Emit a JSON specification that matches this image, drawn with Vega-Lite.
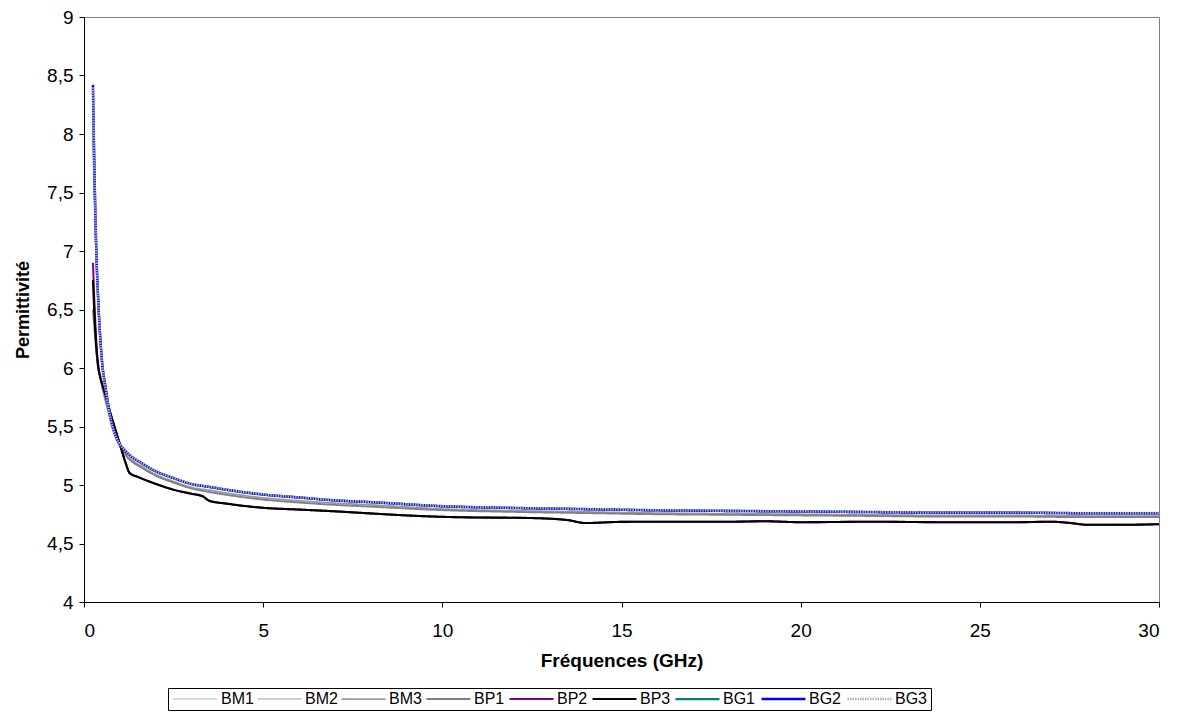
{
  "$schema": "https://vega.github.io/schema/vega-lite/v6.json",
  "width": 1075,
  "height": 585,
  "autosize": {"type": "none"},
  "padding": {"left": 84, "top": 17, "right": 20, "bottom": 120},
  "background": "white",
  "config": {
    "font": "Liberation Sans",
    "view": {"stroke": "#808080", "strokeWidth": 1}
  },
  "data": {
    "values": [
      {"s": "BM1", "f": 0.25, "v": 8.40}, {"s": "BM1", "f": 0.3, "v": 7.55}, {"s": "BM1", "f": 0.35, "v": 6.92}, {"s": "BM1", "f": 0.4, "v": 6.55},
      {"s": "BM1", "f": 0.5, "v": 6.05}, {"s": "BM1", "f": 0.6, "v": 5.83}, {"s": "BM1", "f": 0.75, "v": 5.55}, {"s": "BM1", "f": 0.9, "v": 5.40},
      {"s": "BM1", "f": 1.1, "v": 5.31}, {"s": "BM1", "f": 1.3, "v": 5.25}, {"s": "BM1", "f": 1.6, "v": 5.19}, {"s": "BM1", "f": 2, "v": 5.12},
      {"s": "BM1", "f": 2.5, "v": 5.06}, {"s": "BM1", "f": 3, "v": 5.01}, {"s": "BM1", "f": 3.5, "v": 4.985}, {"s": "BM1", "f": 4, "v": 4.96},
      {"s": "BM1", "f": 5, "v": 4.92}, {"s": "BM1", "f": 6, "v": 4.895}, {"s": "BM1", "f": 7, "v": 4.87}, {"s": "BM1", "f": 8, "v": 4.855},
      {"s": "BM1", "f": 10, "v": 4.82}, {"s": "BM1", "f": 12, "v": 4.805}, {"s": "BM1", "f": 14, "v": 4.795}, {"s": "BM1", "f": 16, "v": 4.785},
      {"s": "BM1", "f": 18, "v": 4.78}, {"s": "BM1", "f": 20, "v": 4.775}, {"s": "BM1", "f": 22, "v": 4.77}, {"s": "BM1", "f": 24, "v": 4.765},
      {"s": "BM1", "f": 26, "v": 4.765}, {"s": "BM1", "f": 28, "v": 4.76}, {"s": "BM1", "f": 30, "v": 4.76},

      {"s": "BM2", "f": 0.25, "v": 8.38}, {"s": "BM2", "f": 0.3, "v": 7.52}, {"s": "BM2", "f": 0.35, "v": 6.90}, {"s": "BM2", "f": 0.4, "v": 6.53},
      {"s": "BM2", "f": 0.5, "v": 6.04}, {"s": "BM2", "f": 0.6, "v": 5.82}, {"s": "BM2", "f": 0.75, "v": 5.54}, {"s": "BM2", "f": 0.9, "v": 5.40},
      {"s": "BM2", "f": 1.1, "v": 5.30}, {"s": "BM2", "f": 1.3, "v": 5.24}, {"s": "BM2", "f": 1.6, "v": 5.18}, {"s": "BM2", "f": 2, "v": 5.11},
      {"s": "BM2", "f": 2.5, "v": 5.055}, {"s": "BM2", "f": 3, "v": 5.005}, {"s": "BM2", "f": 3.5, "v": 4.98}, {"s": "BM2", "f": 4, "v": 4.955},
      {"s": "BM2", "f": 5, "v": 4.915}, {"s": "BM2", "f": 6, "v": 4.89}, {"s": "BM2", "f": 7, "v": 4.865}, {"s": "BM2", "f": 8, "v": 4.85},
      {"s": "BM2", "f": 10, "v": 4.815}, {"s": "BM2", "f": 12, "v": 4.8}, {"s": "BM2", "f": 14, "v": 4.79}, {"s": "BM2", "f": 16, "v": 4.78},
      {"s": "BM2", "f": 18, "v": 4.775}, {"s": "BM2", "f": 20, "v": 4.77}, {"s": "BM2", "f": 22, "v": 4.765}, {"s": "BM2", "f": 24, "v": 4.76},
      {"s": "BM2", "f": 26, "v": 4.76}, {"s": "BM2", "f": 28, "v": 4.755}, {"s": "BM2", "f": 30, "v": 4.755},

      {"s": "BM3", "f": 0.25, "v": 7.96}, {"s": "BM3", "f": 0.3, "v": 7.35}, {"s": "BM3", "f": 0.35, "v": 6.85}, {"s": "BM3", "f": 0.4, "v": 6.5},
      {"s": "BM3", "f": 0.5, "v": 6.05}, {"s": "BM3", "f": 0.6, "v": 5.82}, {"s": "BM3", "f": 0.75, "v": 5.55}, {"s": "BM3", "f": 0.9, "v": 5.40},
      {"s": "BM3", "f": 1.1, "v": 5.28}, {"s": "BM3", "f": 1.3, "v": 5.22}, {"s": "BM3", "f": 1.6, "v": 5.16}, {"s": "BM3", "f": 2, "v": 5.09},
      {"s": "BM3", "f": 2.5, "v": 5.03}, {"s": "BM3", "f": 3, "v": 4.98}, {"s": "BM3", "f": 3.5, "v": 4.955}, {"s": "BM3", "f": 4, "v": 4.93},
      {"s": "BM3", "f": 5, "v": 4.89}, {"s": "BM3", "f": 6, "v": 4.865}, {"s": "BM3", "f": 7, "v": 4.845}, {"s": "BM3", "f": 8, "v": 4.83},
      {"s": "BM3", "f": 10, "v": 4.795}, {"s": "BM3", "f": 12, "v": 4.78}, {"s": "BM3", "f": 14, "v": 4.77}, {"s": "BM3", "f": 16, "v": 4.76},
      {"s": "BM3", "f": 18, "v": 4.755}, {"s": "BM3", "f": 20, "v": 4.75}, {"s": "BM3", "f": 22, "v": 4.745}, {"s": "BM3", "f": 24, "v": 4.74},
      {"s": "BM3", "f": 26, "v": 4.74}, {"s": "BM3", "f": 28, "v": 4.735}, {"s": "BM3", "f": 30, "v": 4.735},

      {"s": "BP1", "f": 0.25, "v": 6.5}, {"s": "BP1", "f": 0.3, "v": 6.3}, {"s": "BP1", "f": 0.35, "v": 6.12}, {"s": "BP1", "f": 0.4, "v": 6.0},
      {"s": "BP1", "f": 0.5, "v": 5.85}, {"s": "BP1", "f": 0.6, "v": 5.72}, {"s": "BP1", "f": 0.75, "v": 5.55}, {"s": "BP1", "f": 0.9, "v": 5.42},
      {"s": "BP1", "f": 1.1, "v": 5.30}, {"s": "BP1", "f": 1.2, "v": 5.24}, {"s": "BP1", "f": 1.3, "v": 5.21}, {"s": "BP1", "f": 1.6, "v": 5.15},
      {"s": "BP1", "f": 2, "v": 5.08}, {"s": "BP1", "f": 2.5, "v": 5.02}, {"s": "BP1", "f": 3, "v": 4.97}, {"s": "BP1", "f": 3.5, "v": 4.94},
      {"s": "BP1", "f": 4, "v": 4.915}, {"s": "BP1", "f": 5, "v": 4.875}, {"s": "BP1", "f": 6, "v": 4.85}, {"s": "BP1", "f": 7, "v": 4.83},
      {"s": "BP1", "f": 8, "v": 4.815}, {"s": "BP1", "f": 10, "v": 4.785}, {"s": "BP1", "f": 12, "v": 4.77}, {"s": "BP1", "f": 14, "v": 4.76},
      {"s": "BP1", "f": 16, "v": 4.75}, {"s": "BP1", "f": 18, "v": 4.745}, {"s": "BP1", "f": 20, "v": 4.74}, {"s": "BP1", "f": 22, "v": 4.735},
      {"s": "BP1", "f": 24, "v": 4.73}, {"s": "BP1", "f": 26, "v": 4.73}, {"s": "BP1", "f": 28, "v": 4.725}, {"s": "BP1", "f": 30, "v": 4.725},

      {"s": "BP2", "f": 0.25, "v": 6.9}, {"s": "BP2", "f": 0.3, "v": 6.5}, {"s": "BP2", "f": 0.35, "v": 6.2}, {"s": "BP2", "f": 0.4, "v": 6.02},
      {"s": "BP2", "f": 0.45, "v": 5.93}, {"s": "BP2", "f": 0.5, "v": 5.87}, {"s": "BP2", "f": 0.6, "v": 5.77}, {"s": "BP2", "f": 0.75, "v": 5.6},
      {"s": "BP2", "f": 0.85, "v": 5.5}, {"s": "BP2", "f": 1.0, "v": 5.35}, {"s": "BP2", "f": 1.15, "v": 5.2}, {"s": "BP2", "f": 1.28, "v": 5.1},
      {"s": "BP2", "f": 1.5, "v": 5.07}, {"s": "BP2", "f": 2, "v": 5.01}, {"s": "BP2", "f": 2.5, "v": 4.96}, {"s": "BP2", "f": 3, "v": 4.925},
      {"s": "BP2", "f": 3.3, "v": 4.905}, {"s": "BP2", "f": 3.5, "v": 4.865}, {"s": "BP2", "f": 4, "v": 4.84}, {"s": "BP2", "f": 5, "v": 4.805},
      {"s": "BP2", "f": 6, "v": 4.79}, {"s": "BP2", "f": 7, "v": 4.775}, {"s": "BP2", "f": 8, "v": 4.757}, {"s": "BP2", "f": 9, "v": 4.74},
      {"s": "BP2", "f": 10, "v": 4.728}, {"s": "BP2", "f": 11, "v": 4.722}, {"s": "BP2", "f": 12, "v": 4.72}, {"s": "BP2", "f": 13, "v": 4.712},
      {"s": "BP2", "f": 13.5, "v": 4.70}, {"s": "BP2", "f": 14, "v": 4.675}, {"s": "BP2", "f": 15, "v": 4.685}, {"s": "BP2", "f": 16, "v": 4.686},
      {"s": "BP2", "f": 18, "v": 4.686}, {"s": "BP2", "f": 19, "v": 4.69}, {"s": "BP2", "f": 20, "v": 4.682}, {"s": "BP2", "f": 22, "v": 4.686},
      {"s": "BP2", "f": 24, "v": 4.682}, {"s": "BP2", "f": 26, "v": 4.682}, {"s": "BP2", "f": 27, "v": 4.686}, {"s": "BP2", "f": 27.5, "v": 4.676},
      {"s": "BP2", "f": 28, "v": 4.66}, {"s": "BP2", "f": 29, "v": 4.66}, {"s": "BP2", "f": 30, "v": 4.665},

      {"s": "BP3", "f": 0.25, "v": 6.75}, {"s": "BP3", "f": 0.3, "v": 6.4}, {"s": "BP3", "f": 0.35, "v": 6.15}, {"s": "BP3", "f": 0.4, "v": 6.0},
      {"s": "BP3", "f": 0.45, "v": 5.93}, {"s": "BP3", "f": 0.5, "v": 5.87}, {"s": "BP3", "f": 0.6, "v": 5.77}, {"s": "BP3", "f": 0.75, "v": 5.6},
      {"s": "BP3", "f": 0.85, "v": 5.5}, {"s": "BP3", "f": 1.0, "v": 5.35}, {"s": "BP3", "f": 1.15, "v": 5.2}, {"s": "BP3", "f": 1.28, "v": 5.1},
      {"s": "BP3", "f": 1.5, "v": 5.07}, {"s": "BP3", "f": 2, "v": 5.01}, {"s": "BP3", "f": 2.5, "v": 4.96}, {"s": "BP3", "f": 3, "v": 4.925},
      {"s": "BP3", "f": 3.3, "v": 4.905}, {"s": "BP3", "f": 3.5, "v": 4.865}, {"s": "BP3", "f": 4, "v": 4.84}, {"s": "BP3", "f": 5, "v": 4.805},
      {"s": "BP3", "f": 6, "v": 4.79}, {"s": "BP3", "f": 7, "v": 4.775}, {"s": "BP3", "f": 8, "v": 4.757}, {"s": "BP3", "f": 9, "v": 4.74},
      {"s": "BP3", "f": 10, "v": 4.728}, {"s": "BP3", "f": 11, "v": 4.722}, {"s": "BP3", "f": 12, "v": 4.72}, {"s": "BP3", "f": 13, "v": 4.712},
      {"s": "BP3", "f": 13.5, "v": 4.70}, {"s": "BP3", "f": 14, "v": 4.675}, {"s": "BP3", "f": 15, "v": 4.685}, {"s": "BP3", "f": 16, "v": 4.686},
      {"s": "BP3", "f": 18, "v": 4.686}, {"s": "BP3", "f": 19, "v": 4.69}, {"s": "BP3", "f": 20, "v": 4.682}, {"s": "BP3", "f": 22, "v": 4.686},
      {"s": "BP3", "f": 24, "v": 4.682}, {"s": "BP3", "f": 26, "v": 4.682}, {"s": "BP3", "f": 27, "v": 4.686}, {"s": "BP3", "f": 27.5, "v": 4.676},
      {"s": "BP3", "f": 28, "v": 4.66}, {"s": "BP3", "f": 29, "v": 4.66}, {"s": "BP3", "f": 30, "v": 4.665},

      {"s": "BG1", "f": 0.25, "v": 8.35}, {"s": "BG1", "f": 0.3, "v": 7.52}, {"s": "BG1", "f": 0.35, "v": 6.93}, {"s": "BG1", "f": 0.4, "v": 6.56},
      {"s": "BG1", "f": 0.5, "v": 6.06}, {"s": "BG1", "f": 0.6, "v": 5.84}, {"s": "BG1", "f": 0.75, "v": 5.56}, {"s": "BG1", "f": 0.9, "v": 5.41},
      {"s": "BG1", "f": 1.1, "v": 5.31}, {"s": "BG1", "f": 1.3, "v": 5.25}, {"s": "BG1", "f": 1.6, "v": 5.19}, {"s": "BG1", "f": 2, "v": 5.12},
      {"s": "BG1", "f": 2.5, "v": 5.06}, {"s": "BG1", "f": 3, "v": 5.01}, {"s": "BG1", "f": 3.5, "v": 4.985}, {"s": "BG1", "f": 4, "v": 4.96},
      {"s": "BG1", "f": 5, "v": 4.92}, {"s": "BG1", "f": 6, "v": 4.895}, {"s": "BG1", "f": 7, "v": 4.87}, {"s": "BG1", "f": 8, "v": 4.855},
      {"s": "BG1", "f": 10, "v": 4.82}, {"s": "BG1", "f": 12, "v": 4.805}, {"s": "BG1", "f": 14, "v": 4.795}, {"s": "BG1", "f": 16, "v": 4.785},
      {"s": "BG1", "f": 18, "v": 4.78}, {"s": "BG1", "f": 20, "v": 4.775}, {"s": "BG1", "f": 22, "v": 4.77}, {"s": "BG1", "f": 24, "v": 4.765},
      {"s": "BG1", "f": 26, "v": 4.765}, {"s": "BG1", "f": 28, "v": 4.76}, {"s": "BG1", "f": 30, "v": 4.76},

      {"s": "BG2", "f": 0.25, "v": 8.42}, {"s": "BG2", "f": 0.3, "v": 7.58}, {"s": "BG2", "f": 0.35, "v": 6.95}, {"s": "BG2", "f": 0.4, "v": 6.57},
      {"s": "BG2", "f": 0.5, "v": 6.07}, {"s": "BG2", "f": 0.6, "v": 5.84}, {"s": "BG2", "f": 0.75, "v": 5.555}, {"s": "BG2", "f": 0.9, "v": 5.405},
      {"s": "BG2", "f": 1.1, "v": 5.308}, {"s": "BG2", "f": 1.3, "v": 5.248}, {"s": "BG2", "f": 1.6, "v": 5.188}, {"s": "BG2", "f": 2, "v": 5.118},
      {"s": "BG2", "f": 2.5, "v": 5.058}, {"s": "BG2", "f": 3, "v": 5.008}, {"s": "BG2", "f": 3.5, "v": 4.983}, {"s": "BG2", "f": 4, "v": 4.958},
      {"s": "BG2", "f": 5, "v": 4.918}, {"s": "BG2", "f": 6, "v": 4.893}, {"s": "BG2", "f": 7, "v": 4.868}, {"s": "BG2", "f": 8, "v": 4.853},
      {"s": "BG2", "f": 10, "v": 4.818}, {"s": "BG2", "f": 12, "v": 4.803}, {"s": "BG2", "f": 14, "v": 4.793}, {"s": "BG2", "f": 16, "v": 4.783},
      {"s": "BG2", "f": 18, "v": 4.778}, {"s": "BG2", "f": 20, "v": 4.773}, {"s": "BG2", "f": 22, "v": 4.768}, {"s": "BG2", "f": 24, "v": 4.763},
      {"s": "BG2", "f": 26, "v": 4.763}, {"s": "BG2", "f": 28, "v": 4.758}, {"s": "BG2", "f": 30, "v": 4.758},

      {"s": "BG3", "f": 0.25, "v": 8.40}, {"s": "BG3", "f": 0.3, "v": 7.56}, {"s": "BG3", "f": 0.35, "v": 6.93}, {"s": "BG3", "f": 0.4, "v": 6.55},
      {"s": "BG3", "f": 0.5, "v": 6.06}, {"s": "BG3", "f": 0.6, "v": 5.83}, {"s": "BG3", "f": 0.75, "v": 5.55}, {"s": "BG3", "f": 0.9, "v": 5.405},
      {"s": "BG3", "f": 1.1, "v": 5.31}, {"s": "BG3", "f": 1.3, "v": 5.25}, {"s": "BG3", "f": 1.6, "v": 5.19}, {"s": "BG3", "f": 2, "v": 5.12},
      {"s": "BG3", "f": 2.5, "v": 5.06}, {"s": "BG3", "f": 3, "v": 5.01}, {"s": "BG3", "f": 3.5, "v": 4.985}, {"s": "BG3", "f": 4, "v": 4.96},
      {"s": "BG3", "f": 5, "v": 4.92}, {"s": "BG3", "f": 6, "v": 4.895}, {"s": "BG3", "f": 7, "v": 4.87}, {"s": "BG3", "f": 8, "v": 4.855},
      {"s": "BG3", "f": 10, "v": 4.82}, {"s": "BG3", "f": 12, "v": 4.805}, {"s": "BG3", "f": 14, "v": 4.795}, {"s": "BG3", "f": 16, "v": 4.785},
      {"s": "BG3", "f": 18, "v": 4.78}, {"s": "BG3", "f": 20, "v": 4.775}, {"s": "BG3", "f": 22, "v": 4.77}, {"s": "BG3", "f": 24, "v": 4.765},
      {"s": "BG3", "f": 26, "v": 4.765}, {"s": "BG3", "f": 28, "v": 4.76}, {"s": "BG3", "f": 30, "v": 4.76}
    ]
  },
  "mark": {"type": "line", "interpolate": "monotone", "clip": true},
  "encoding": {
    "x": {
      "field": "f", "type": "quantitative",
      "scale": {"domain": [0, 30], "nice": false, "zero": false},
      "axis": {
        "title": "Fréquences (GHz)", "values": [0, 5, 10, 15, 20, 25, 30],
        "grid": false, "domainColor": "black", "tickColor": "black", "tickSize": 5,
        "labelFont": "Liberation Sans", "labelFontSize": 19, "labelColor": "black", "labelPadding": 14,
        "titleFont": "Liberation Sans", "titleFontSize": 19, "titleFontWeight": "bold", "titleColor": "black", "titlePadding": 11
      }
    },
    "y": {
      "field": "v", "type": "quantitative",
      "scale": {"domain": [4, 9], "nice": false, "zero": false},
      "axis": {
        "title": "Permittivité", "values": [4, 4.5, 5, 5.5, 6, 6.5, 7, 7.5, 8, 8.5, 9],
        "labelExpr": "replace(toString(datum.value), '.', ',')",
        "grid": false, "domainColor": "black", "tickColor": "black", "tickSize": 5,
        "labelFont": "Liberation Sans", "labelFontSize": 19, "labelColor": "black", "labelPadding": 6,
        "titleFont": "Liberation Sans", "titleFontSize": 18, "titleFontWeight": "bold", "titleColor": "black", "titlePadding": 14
      }
    },
    "color": {
      "field": "s", "type": "nominal",
      "scale": {
        "domain": ["BM1", "BM2", "BM3", "BP1", "BP2", "BP3", "BG1", "BG2", "BG3"],
        "range": ["#a0a0a0", "#c0c0c0", "#9a9a9a", "#808080", "#800080", "#000000", "#008080", "#0000ff", "#b0b0b0"]
      },
      "legend": {
        "orient": "none", "legendX": 84, "legendY": 671, "direction": "horizontal", "columns": 9,
        "title": null, "symbolType": "M-1,0H7", "symbolSize": 121, "columnPadding": 0,
        "symbolFillColor": "transparent",
        "labelFont": "Liberation Sans", "labelFontSize": 16, "labelColor": "black", "labelOffset": 34,
        "strokeColor": "black", "padding": 3, "fillColor": "white"
      }
    },
    "strokeDash": {
      "field": "s", "type": "nominal",
      "scale": {
        "domain": ["BM1", "BM2", "BM3", "BP1", "BP2", "BP3", "BG1", "BG2", "BG3"],
        "range": [[1, 1], [1, 0], [1, 0], [1, 0], [1, 0], [1, 0], [1, 0], [1, 0], [1.5, 1]]
      }
    },
    "strokeWidth": {
      "field": "s", "type": "nominal",
      "scale": {
        "domain": ["BM1", "BM2", "BM3", "BP1", "BP2", "BP3", "BG1", "BG2", "BG3"],
        "range": [1.5, 2.5, 3, 3, 1, 3, 1, 1, 3]
      }
    },
    "order": {"field": "f", "type": "quantitative"}
  }
}
